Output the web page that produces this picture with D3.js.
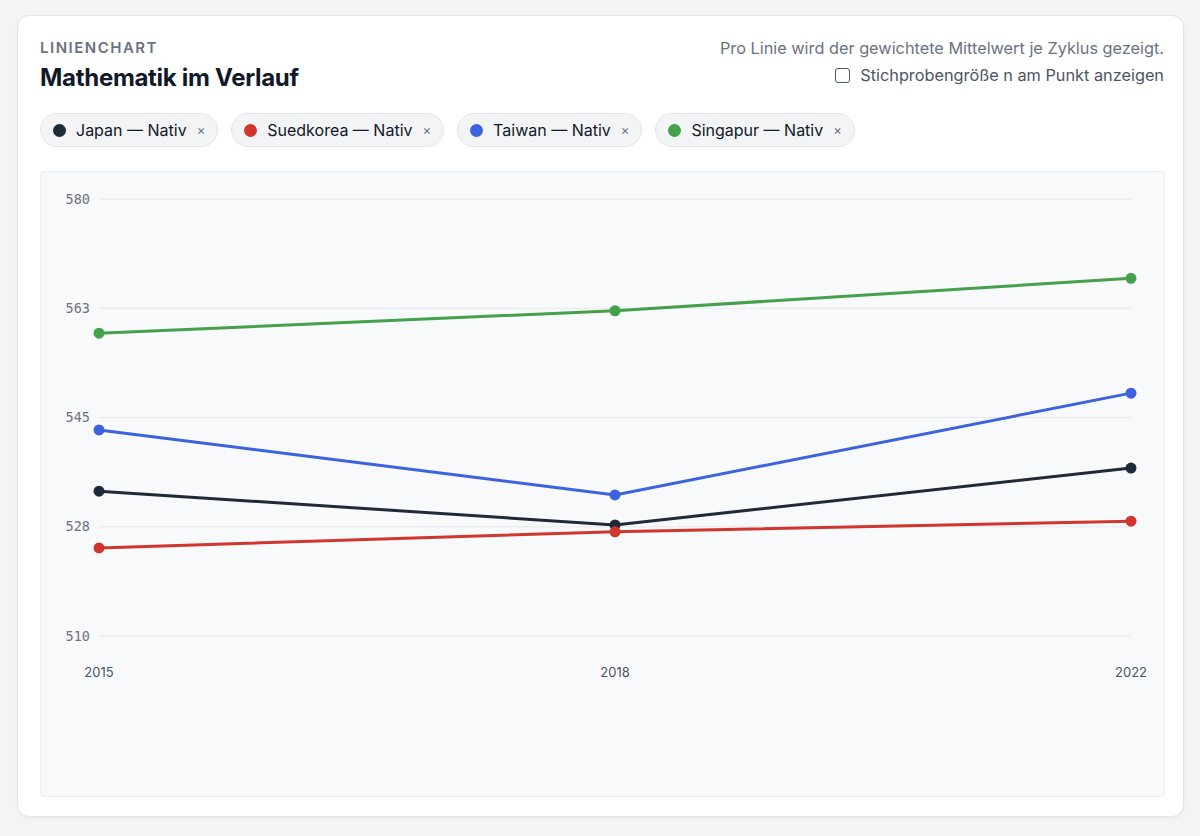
<!DOCTYPE html>
<html>
<head>
<meta charset="utf-8">
<script src="https://cdn.jsdelivr.net/npm/d3@7"></script>
<style>
  html, body { margin: 0; padding: 0; background: #f3f4f6; font-family: Inter, "Noto Sans", sans-serif; }
  .card { position: absolute; left: 17px; top: 15px; width: 1165px; height: 800px; background: #fff;
          border: 1px solid #e3e5e9; border-radius: 12px; box-shadow: 0 1px 3px rgba(0,0,0,0.06); }
  .kicker { position: absolute; left: 22px; top: 22px; font-size: 15px; font-weight: 600; letter-spacing: 1.5px; color: #6b7280; }
  .title { position: absolute; left: 22px; top: 47px; font-size: 24px; font-weight: 700; color: #111827; letter-spacing: -0.3px; }
  .note { position: absolute; right: 19px; top: 22px; font-size: 16.3px; color: #6b7280; text-align: right; }
  .toggle { position: absolute; right: 19px; top: 49px; font-size: 16.3px; color: #4b5563; display: flex; align-items: center; }
  .box { width: 13px; height: 13px; border: 1.5px solid #4b5563; border-radius: 3px; margin-right: 10px; }
  .chips { position: absolute; left: 22px; top: 97px; display: flex; }
  .chip { display: flex; align-items: center; height: 34px; padding: 0 12px; margin-right: 13px; background: #f3f4f6;
          border: 1px solid #e3e5e9; border-radius: 17px; font-size: 16px; color: #111827; box-sizing: border-box; }
  .dot { width: 13px; height: 13px; border-radius: 50%; margin-right: 10px; }
  .x { margin-left: 10px; font-size: 13px; color: #6b7280; }
  .plot { position: absolute; left: 22px; top: 155px; width: 1123px; height: 624px; background: #f8f9fb;
          border: 1px solid #eceef1; border-radius: 4px; }
</style>
</head>
<body>
<div class="card">
  <div class="kicker">LINIENCHART</div>
  <div class="title">Mathematik im Verlauf</div>
  <div class="note">Pro Linie wird der gewichtete Mittelwert je Zyklus gezeigt.</div>
  <div class="toggle"><div class="box"></div>Stichprobengröße n am Punkt anzeigen</div>
  <div class="chips" id="chips"></div>
  <div class="plot" id="plot"></div>
</div>
<script>
// data
var years = ["2015", "2018", "2022"];
var seriesNames = ["Japan — Nativ", "Suedkorea — Nativ", "Taiwan — Nativ", "Singapur — Nativ"];
var seriesColors = ["#1f2937", "#d0362d", "#3b62df", "#45a04b"];
var japan = [533.2, 527.8, 536.9];
var suedkorea = [524.1, 526.7, 528.4];
var taiwan = [543.0, 532.6, 548.9];
var singapur = [558.5, 562.1, 567.3];
var yTicks = [510, 527.5, 545, 562.5, 580];

var allValues = [japan, suedkorea, taiwan, singapur];

// legend chips
var chips = d3.select("#chips").selectAll(".chip")
    .data(seriesNames)
    .enter().append("div")
    .attr("class", "chip");
chips.append("div").attr("class", "dot").style("background", function (d, i) { return seriesColors[i]; });
chips.append("span").text(function (d) { return d; });
chips.append("span").attr("class", "x").text("×");

// chart
var width = 1123, height = 624;
var margin = { left: 58, right: 33, top: 27, bottom: 160 };

var svg = d3.select("#plot").append("svg")
    .attr("width", width)
    .attr("height", height)
    .style("display", "block");

var x = d3.scalePoint()
    .domain(years)
    .range([margin.left, width - margin.right]);

var y = d3.scaleLinear()
    .domain([510, 580])
    .range([height - margin.bottom, margin.top]);

// gridlines
svg.append("g").selectAll("line")
    .data(yTicks)
    .enter().append("line")
    .attr("x1", margin.left)
    .attr("x2", width - margin.right)
    .attr("y1", function (d) { return y(d); })
    .attr("y2", function (d) { return y(d); })
    .attr("stroke", "#e6e8ec")
    .attr("stroke-width", 1);

// y labels
svg.append("g").selectAll("text")
    .data(yTicks)
    .enter().append("text")
    .attr("x", 49)
    .attr("y", function (d) { return y(d); })
    .attr("dy", "0.35em")
    .attr("text-anchor", "end")
    .attr("font-family", "'DejaVu Sans Mono', monospace")
    .attr("font-size", 13.5)
    .attr("fill", "#6b7280")
    .text(function (d) { return Math.round(d); });

// x labels
svg.append("g").selectAll("text")
    .data(years)
    .enter().append("text")
    .attr("x", function (d) { return x(d); })
    .attr("y", 505)
    .attr("text-anchor", "middle")
    .attr("font-size", 13)
    .attr("fill", "#4b5563")
    .text(function (d) { return d; });

var line = d3.line()
    .x(function (d, i) { return x(years[i]); })
    .y(function (d) { return y(d); });

var groups = svg.append("g").selectAll("g")
    .data(allValues)
    .enter().append("g");

groups.append("path")
    .attr("d", line)
    .attr("fill", "none")
    .attr("stroke", function (d, i) { return seriesColors[i]; })
    .attr("stroke-width", 3);

groups.each(function (vals, i) {
    d3.select(this).selectAll("circle")
        .data(vals)
        .enter().append("circle")
        .attr("cx", function (d, j) { return x(years[j]); })
        .attr("cy", function (d) { return y(d); })
        .attr("r", 5.5)
        .attr("fill", seriesColors[i]);
});
</script>
</body>
</html>
